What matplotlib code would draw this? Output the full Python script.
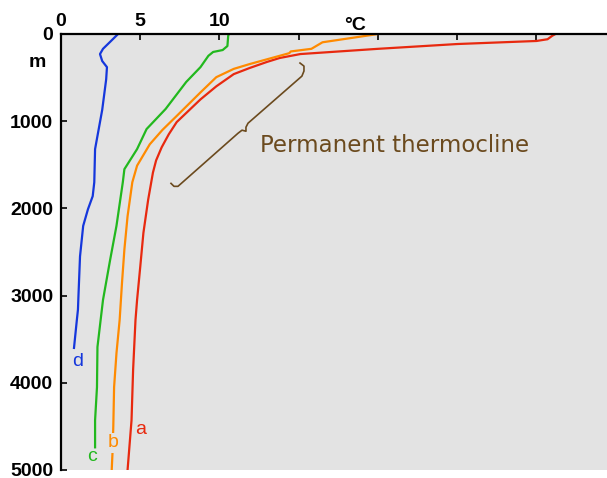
import numpy as np
import matplotlib.pyplot as plt

# temperature profiles (depth in m, temperature in degC)
depth_a = [0, 20, 60, 80, 115, 170, 230, 275, 320, 390, 460, 600, 750, 1010, 1150, 1300, 1450, 1590, 1900, 2280, 2670, 3050, 3280, 3850, 4430, 5000]
temp_a = [31.2, 31.0, 30.7, 30.0, 25.0, 20.0, 15.1, 13.8, 13.0, 11.9, 10.9, 9.8, 8.8, 7.3, 6.8, 6.35, 6.0, 5.8, 5.5, 5.2, 5.0, 4.8, 4.7, 4.55, 4.45, 4.2]

depth_b = [0, 95, 170, 200, 220, 345, 400, 495, 670, 940, 1100, 1265, 1510, 1700, 2090, 2470, 2850, 3280, 3660, 4050, 4500, 4800, 5000]
temp_b = [20.0, 16.5, 15.8, 14.5, 14.4, 11.9, 10.9, 9.8, 8.8, 7.3, 6.4, 5.6, 4.8, 4.5, 4.2, 4.0, 3.85, 3.7, 3.5, 3.35, 3.3, 3.25, 3.2]

depth_c = [0, 20, 138, 184, 206, 250, 380, 550, 860, 1090, 1320, 1550, 1700, 2200, 2590, 3050, 3280, 3590, 4050, 4430, 4740]
temp_c = [10.6, 10.55, 10.5, 10.2, 9.6, 9.3, 8.8, 7.9, 6.6, 5.4, 4.8, 4.0, 3.9, 3.5, 3.1, 2.65, 2.5, 2.3, 2.27, 2.15, 2.15]

depth_d = [0, 90, 170, 230, 310, 380, 520, 870, 1320, 1700, 1860, 2010, 2200, 2550, 3010, 3160, 3280, 3600]
temp_d = [3.6, 3.1, 2.65, 2.46, 2.6, 2.9, 2.85, 2.6, 2.15, 2.1, 2.0, 1.7, 1.4, 1.2, 1.1, 1.07, 1.0, 0.82]

# brace marking the permanent thermocline
brace_t = [15.08, 15.33, 15.33, 15.2, 11.8, 11.67, 11.67, 11.42, 11.17, 7.38, 7.13, 6.94]
brace_d = [333, 368, 425, 483, 1023, 1069, 1115, 1103, 1138, 1747, 1747, 1713]

c_a = '#e8290f'
c_b = '#ff8a00'
c_c = '#22b81e'
c_d = '#1537dc'
brown = '#6b4a1e'

fig = plt.figure(figsize=(6.07, 4.78), dpi=100)
ax = fig.add_axes([61/607, 1-470/478, 1-61/607, (470-34)/478])
ax.set_facecolor('#e3e3e3')

ax.plot(temp_a, depth_a, color=c_a, lw=1.6)
ax.plot(temp_b, depth_b, color=c_b, lw=1.6)
ax.plot(temp_c, depth_c, color=c_c, lw=1.6)
ax.plot(temp_d, depth_d, color=c_d, lw=1.6)
ax.plot(brace_t, brace_d, color=brown, lw=1.2)

lab = dict(fontsize=14, family='Liberation Sans', ha='center', va='center')
ax.text(5.05, 4530, 'a', color=c_a, **lab)
ax.text(3.3, 4690, 'b', color=c_b, bbox=dict(facecolor='#e3e3e3', edgecolor='none', pad=1), **lab)
ax.text(1.96, 4850, 'c', color=c_c, **lab)
ax.text(1.07, 3760, 'd', color=c_d, **lab)

ax.text(12.56, 1284, 'Permanent thermocline', color=brown, fontsize=16.5,
        family='DejaVu Sans', ha='left', va='center')

ax.set_xlim(0, 34.45)
ax.set_ylim(5000, 0)
ax.xaxis.tick_top()
ax.set_xticks([0, 5, 10, 15, 20, 25, 30])
ax.set_xticklabels(['0', '5', '10', '', '', '', ''])
ax.set_yticks([0, 1000, 2000, 3000, 4000, 5000])
ax.set_yticklabels(['0', '1000', '2000', '3000', '4000', '5000'])
ax.tick_params(axis='both', direction='in', length=4, width=1.2, labelsize=14)
ax.tick_params(axis='x', pad=3)
ax.tick_params(axis='y', pad=5.5)
for t in ax.get_xticklabels() + ax.get_yticklabels():
    t.set_family('Liberation Sans')
    t.set_fontweight('bold')

ax.text(18.55, 1.0, '\u00b0C', transform=ax.get_xaxis_transform(), fontsize=14,
        family='Liberation Sans', fontweight='bold', ha='center', va='bottom')
ax.text(-1.5, 330, 'm', fontsize=14, family='Liberation Sans', fontweight='bold',
        ha='center', va='center', clip_on=False)

for s in ['bottom', 'right']:
    ax.spines[s].set_visible(False)
for s in ['top', 'left']:
    ax.spines[s].set_linewidth(1.6)

fig.savefig('out.png', dpi=100)
